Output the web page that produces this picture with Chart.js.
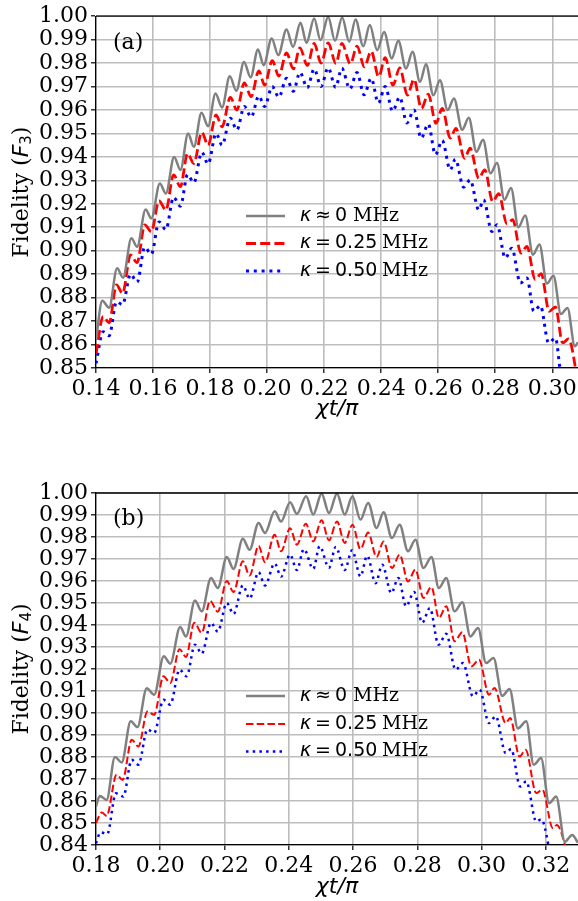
<!DOCTYPE html>
<html><head><meta charset="utf-8">
<script src="https://cdn.jsdelivr.net/npm/chart.js@4.4.1/dist/chart.umd.min.js"></script>
<style>
html,body{margin:0;padding:0;background:#fff;overflow:hidden;width:578px;height:901px;}
#wrapA{position:absolute;left:0;top:0;width:578px;height:440px;}
#wrapB{position:absolute;left:0;top:440px;width:578px;height:461px;}
canvas{display:block;}
</style></head><body>
<div id="wrapA"><canvas id="cA" width="578" height="440"></canvas></div>
<div id="wrapB"><canvas id="cB" width="578" height="461"></canvas></div>
<script>
// ---------- series labels ----------
const seriesLabels = ['κ ≈ 0 MHz', 'κ = 0.25 MHz', 'κ = 0.50 MHz'];

// ---------- panel (a): F3 ----------
const xTicksA = [0.14, 0.16, 0.18, 0.20, 0.22, 0.24, 0.26, 0.28, 0.30];
const yTicksA = [0.85, 0.86, 0.87, 0.88, 0.89, 0.90, 0.91, 0.92, 0.93, 0.94, 0.95, 0.96, 0.97, 0.98, 0.99, 1.00];

const xA_grey = [0.1400, 0.1422, 0.1446, 0.1474, 0.1495, 0.1524, 0.1544, 0.1574, 0.1594, 0.1624, 0.1645, 0.1674, 0.1696, 0.1723, 0.1743, 0.1770, 0.1793, 0.1819, 0.1842, 0.1869, 0.1892, 0.1919, 0.1942, 0.1968, 0.1988, 0.2016, 0.2039, 0.2068, 0.2091, 0.2117, 0.2138, 0.2165, 0.2187, 0.2214, 0.2238, 0.2263, 0.2288, 0.2310, 0.2337, 0.2360, 0.2386, 0.2410, 0.2437, 0.2460, 0.2487, 0.2510, 0.2536, 0.2557, 0.2583, 0.2606, 0.2633, 0.2655, 0.2684, 0.2707, 0.2734, 0.2757, 0.2783, 0.2806, 0.2832, 0.2855, 0.2881, 0.2905, 0.2932, 0.2955, 0.2981, 0.3004, 0.3030, 0.3053, 0.3079, 0.3090];
const yA_grey = [0.862, 0.8787, 0.8757, 0.8925, 0.8885, 0.9053, 0.9017, 0.9176, 0.9138, 0.9287, 0.9244, 0.9400, 0.9344, 0.9500, 0.9443, 0.9588, 0.9531, 0.9670, 0.9611, 0.9744, 0.9682, 0.9805, 0.9739, 0.9858, 0.9791, 0.9905, 0.9834, 0.9943, 0.9869, 0.9972, 0.9886, 0.9990, 0.9898, 0.9997, 0.9895, 0.9994, 0.9891, 0.9986, 0.9872, 0.9962, 0.9855, 0.9933, 0.9820, 0.9895, 0.9777, 0.9848, 0.9720, 0.9795, 0.9663, 0.9727, 0.9600, 0.9649, 0.9516, 0.9567, 0.9422, 0.9473, 0.9330, 0.9374, 0.9217, 0.9268, 0.9100, 0.9150, 0.8983, 0.9027, 0.8860, 0.8893, 0.8730, 0.8756, 0.8593, 0.8610];

const xA_red = [0.1400, 0.1425, 0.1446, 0.1472, 0.1493, 0.1521, 0.1544, 0.1571, 0.1594, 0.1621, 0.1645, 0.1672, 0.1696, 0.1721, 0.1743, 0.1771, 0.1793, 0.1821, 0.1842, 0.1871, 0.1894, 0.1920, 0.1944, 0.1971, 0.1991, 0.2018, 0.2041, 0.2068, 0.2092, 0.2115, 0.2141, 0.2165, 0.2189, 0.2214, 0.2241, 0.2262, 0.2292, 0.2315, 0.2341, 0.2365, 0.2391, 0.2414, 0.2441, 0.2465, 0.2492, 0.2515, 0.2541, 0.2565, 0.2592, 0.2614, 0.2642, 0.2662, 0.2692, 0.2712, 0.2742, 0.2763, 0.2791, 0.2812, 0.2841, 0.2861, 0.2890, 0.2911, 0.2940, 0.2961, 0.2989, 0.3011, 0.3036, 0.3057, 0.3090];
const yA_red = [0.856, 0.8720, 0.8693, 0.8854, 0.8818, 0.8982, 0.8949, 0.9110, 0.9081, 0.9213, 0.9173, 0.9323, 0.9273, 0.9415, 0.9372, 0.9505, 0.9450, 0.9579, 0.9528, 0.9654, 0.9600, 0.9716, 0.9657, 0.9767, 0.9706, 0.9810, 0.9745, 0.9844, 0.9775, 0.9865, 0.9790, 0.9884, 0.9800, 0.9886, 0.9799, 0.9884, 0.9797, 0.9872, 0.9784, 0.9851, 0.9742, 0.9823, 0.9706, 0.9780, 0.9664, 0.9731, 0.9607, 0.9668, 0.9543, 0.9607, 0.9480, 0.9522, 0.9394, 0.9437, 0.9309, 0.9345, 0.9210, 0.9243, 0.9115, 0.9132, 0.8990, 0.9018, 0.8877, 0.8902, 0.8742, 0.8760, 0.8607, 0.8624, 0.8440];

const xA_blue = [0.1400, 0.1425, 0.1446, 0.1472, 0.1493, 0.1521, 0.1544, 0.1571, 0.1594, 0.1621, 0.1645, 0.1672, 0.1696, 0.1721, 0.1743, 0.1771, 0.1793, 0.1821, 0.1842, 0.1871, 0.1894, 0.1920, 0.1944, 0.1971, 0.1991, 0.2018, 0.2041, 0.2068, 0.2092, 0.2115, 0.2141, 0.2165, 0.2189, 0.2214, 0.2240, 0.2262, 0.2290, 0.2315, 0.2340, 0.2365, 0.2390, 0.2414, 0.2440, 0.2465, 0.2490, 0.2515, 0.2540, 0.2565, 0.2590, 0.2614, 0.2642, 0.2660, 0.2689, 0.2712, 0.2742, 0.2759, 0.2788, 0.2806, 0.2835, 0.2858, 0.2888, 0.2911, 0.2935, 0.2958, 0.2987, 0.3011, 0.3028, 0.3045];
const yA_blue = [0.852, 0.8655, 0.8637, 0.8783, 0.8770, 0.8900, 0.8866, 0.9015, 0.8985, 0.9123, 0.9090, 0.9228, 0.9190, 0.9325, 0.9290, 0.9420, 0.9370, 0.9500, 0.9450, 0.9565, 0.9515, 0.9615, 0.9570, 0.9660, 0.9615, 0.9700, 0.9655, 0.9735, 0.9680, 0.9760, 0.9695, 0.9775, 0.9700, 0.9780, 0.9697, 0.9778, 0.9690, 0.9760, 0.9665, 0.9735, 0.9630, 0.9700, 0.9595, 0.9655, 0.9545, 0.9600, 0.9480, 0.9540, 0.9410, 0.9470, 0.9345, 0.9390, 0.9271, 0.9302, 0.9174, 0.9217, 0.9082, 0.9111, 0.8969, 0.9011, 0.8862, 0.8884, 0.8742, 0.8766, 0.8607, 0.8628, 0.8490, 0.8420];

// ---------- panel (b): F4 ----------
const xTicksB = [0.18, 0.20, 0.22, 0.24, 0.26, 0.28, 0.30, 0.32];
const yTicksB = [0.84, 0.85, 0.86, 0.87, 0.88, 0.89, 0.90, 0.91, 0.92, 0.93, 0.94, 0.95, 0.96, 0.97, 0.98, 0.99, 1.00];

const xB_grey = [0.1800, 0.1812, 0.1833, 0.1859, 0.1880, 0.1908, 0.1929, 0.1958, 0.1981, 0.2011, 0.2031, 0.2062, 0.2080, 0.2108, 0.2129, 0.2158, 0.2179, 0.2207, 0.2228, 0.2257, 0.2278, 0.2306, 0.2326, 0.2356, 0.2376, 0.2404, 0.2425, 0.2454, 0.2476, 0.2502, 0.2525, 0.2550, 0.2574, 0.2598, 0.2623, 0.2647, 0.2673, 0.2695, 0.2721, 0.2745, 0.2771, 0.2794, 0.2819, 0.2844, 0.2867, 0.2890, 0.2916, 0.2940, 0.2965, 0.2989, 0.3014, 0.3037, 0.3064, 0.3087, 0.3113, 0.3139, 0.3162, 0.3185, 0.3210, 0.3232, 0.3259, 0.3282, 0.3300];
const yB_grey = [0.8575, 0.8623, 0.8605, 0.8800, 0.8775, 0.8962, 0.8936, 0.9113, 0.9083, 0.9258, 0.9224, 0.9391, 0.9348, 0.9511, 0.9462, 0.9614, 0.9568, 0.9709, 0.9655, 0.9792, 0.9742, 0.9864, 0.9818, 0.9917, 0.9870, 0.9958, 0.9905, 0.9985, 0.9902, 0.9997, 0.9909, 0.9997, 0.9902, 0.9985, 0.9879, 0.9955, 0.9841, 0.9912, 0.9795, 0.9856, 0.9735, 0.9788, 0.9659, 0.9709, 0.9568, 0.9614, 0.9462, 0.9503, 0.9348, 0.9386, 0.9227, 0.9250, 0.9078, 0.9109, 0.8930, 0.8962, 0.8765, 0.8795, 0.8590, 0.8620, 0.8415, 0.8446, 0.8410];

const xB_red = [0.1800, 0.1818, 0.1833, 0.1864, 0.1883, 0.1911, 0.1932, 0.1960, 0.1981, 0.2010, 0.2031, 0.2060, 0.2080, 0.2106, 0.2129, 0.2155, 0.2179, 0.2207, 0.2228, 0.2257, 0.2278, 0.2306, 0.2326, 0.2356, 0.2376, 0.2404, 0.2425, 0.2453, 0.2476, 0.2502, 0.2525, 0.2550, 0.2574, 0.2598, 0.2623, 0.2647, 0.2673, 0.2695, 0.2721, 0.2745, 0.2771, 0.2794, 0.2819, 0.2844, 0.2867, 0.2890, 0.2916, 0.2940, 0.2968, 0.2992, 0.3023, 0.3040, 0.3075, 0.3089, 0.3118, 0.3137, 0.3170, 0.3189, 0.3222, 0.3234, 0.3270];
const yB_red = [0.850, 0.8548, 0.8532, 0.8719, 0.8696, 0.8878, 0.8848, 0.9007, 0.8992, 0.9167, 0.9136, 0.9290, 0.9255, 0.9410, 0.9364, 0.9510, 0.9460, 0.9600, 0.9550, 0.9690, 0.9625, 0.9760, 0.9685, 0.9810, 0.9735, 0.9840, 0.9765, 0.9860, 0.9780, 0.9876, 0.9785, 0.9871, 0.9773, 0.9856, 0.9745, 0.9821, 0.9709, 0.9780, 0.9659, 0.9720, 0.9598, 0.9652, 0.9523, 0.9573, 0.9432, 0.9485, 0.9326, 0.9367, 0.9212, 0.9242, 0.9083, 0.9114, 0.8954, 0.8977, 0.8802, 0.8833, 0.8636, 0.8651, 0.8476, 0.8491, 0.8350];

const xB_blue = [0.1800, 0.1814, 0.1835, 0.1862, 0.1885, 0.1911, 0.1932, 0.1960, 0.1981, 0.2010, 0.2031, 0.2060, 0.2082, 0.2108, 0.2129, 0.2158, 0.2179, 0.2207, 0.2228, 0.2257, 0.2278, 0.2306, 0.2326, 0.2356, 0.2376, 0.2404, 0.2425, 0.2447, 0.2476, 0.2496, 0.2525, 0.2546, 0.2574, 0.2597, 0.2623, 0.2644, 0.2670, 0.2691, 0.2719, 0.2741, 0.2765, 0.2790, 0.2815, 0.2839, 0.2866, 0.2890, 0.2919, 0.2942, 0.2973, 0.2994, 0.3023, 0.3044, 0.3075, 0.3092, 0.3120, 0.3139, 0.3170, 0.3186, 0.3215];
const yB_blue = [0.8408, 0.8458, 0.8450, 0.8635, 0.8620, 0.8787, 0.8765, 0.8925, 0.8910, 0.9060, 0.9038, 0.9197, 0.9167, 0.9310, 0.9270, 0.9410, 0.9370, 0.9500, 0.9450, 0.9580, 0.9520, 0.9640, 0.9580, 0.9680, 0.9620, 0.9720, 0.9650, 0.9745, 0.9655, 0.9758, 0.9660, 0.9755, 0.9650, 0.9740, 0.9621, 0.9715, 0.9590, 0.9674, 0.9545, 0.9614, 0.9485, 0.9550, 0.9410, 0.9477, 0.9310, 0.9360, 0.9197, 0.9227, 0.9076, 0.9106, 0.8954, 0.8985, 0.8818, 0.8836, 0.8666, 0.8689, 0.8507, 0.8517, 0.8350];

// ---------- helpers ----------
const pts = (xs, ys) => xs.map((x, i) => ({x: x, y: ys[i]}));

// legend text pieces: [text, font, x-offset from legend text start]
const legendParts = [
  [['κ', 'italic 19px "DejaVu Sans"', 0], ['≈', '19px "DejaVu Sans"', 15], ['0', '19px "DejaVu Sans"', 35], ['MHz', '19px "DejaVu Serif"', 53]],
  [['κ', 'italic 19px "DejaVu Sans"', 0], ['=', '19px "DejaVu Sans"', 15], ['0.25', '19px "DejaVu Sans"', 35], ['MHz', '19px "DejaVu Serif"', 82]],
  [['κ', 'italic 19px "DejaVu Sans"', 0], ['=', '19px "DejaVu Sans"', 15], ['0.50', '19px "DejaVu Sans"', 35], ['MHz', '19px "DejaVu Serif"', 82]]
];

const deco = {
  id: 'deco',
  afterDraw(chart, args, o) {
    const ctx = chart.ctx, a = chart.chartArea;
    ctx.save();
    // top spine
    ctx.strokeStyle = '#000'; ctx.lineWidth = 1.3; ctx.setLineDash([]);
    ctx.beginPath(); ctx.moveTo(a.left, a.top); ctx.lineTo(a.right + 2, a.top); ctx.stroke();
    // panel label
    ctx.fillStyle = '#000'; ctx.textBaseline = 'middle'; ctx.textAlign = 'left';
    ctx.font = '22px "DejaVu Serif"';
    ctx.fillText(o.label, o.labelX, o.labelY);
    // legend
    chart.data.datasets.forEach((ds, i) => {
      const y = o.legendY[i];
      ctx.strokeStyle = ds.borderColor; ctx.lineWidth = ds.borderWidth;
      ctx.setLineDash(ds.borderDash || []); ctx.lineCap = 'butt';
      ctx.beginPath(); ctx.moveTo(o.legendX0, y); ctx.lineTo(o.legendX1, y); ctx.stroke();
      ctx.setLineDash([]);
      legendParts[i].forEach(p => { ctx.font = p[1]; ctx.fillText(p[0], o.textX + p[2], y); });
    });
    // y-axis title with math-style italic F and subscript
    const parts = [['Fidelity (', '22px "DejaVu Serif"', 0], ['F', 'italic 22px "DejaVu Sans"', 0], [o.sub, '15px "DejaVu Sans"', 5], [')', '22px "DejaVu Serif"', 0]];
    let total = 0;
    parts.forEach(p => { ctx.font = p[1]; total += ctx.measureText(p[0]).width; });
    ctx.translate(o.yTitleX, (a.top + a.bottom) / 2);
    ctx.rotate(-Math.PI / 2);
    let x = -total / 2;
    parts.forEach(p => { ctx.font = p[1]; ctx.fillText(p[0], x, p[2]); x += ctx.measureText(p[0]).width; });
    ctx.restore();
  }
};

function makeChart(id, cfg) {
  const ds = [
    {label: seriesLabels[0], data: pts(cfg.g[0], cfg.g[1]), borderColor: '#808080', borderWidth: 2.5, borderDash: []},
    {label: seriesLabels[1], data: pts(cfg.r[0], cfg.r[1]), borderColor: '#ff0000', borderWidth: cfg.rw, borderDash: cfg.rDash},
    {label: seriesLabels[2], data: pts(cfg.b[0], cfg.b[1]), borderColor: '#0000ff', borderWidth: cfg.bw, borderDash: cfg.bDash}
  ];
  ds.forEach(d => { d.pointRadius = 0; d.fill = false; d.cubicInterpolationMode = 'monotone'; d.borderCapStyle = 'butt'; });
  return new Chart(document.getElementById(id), {
    type: 'line',
    data: {datasets: ds},
    plugins: [deco],
    options: {
      responsive: false, animation: false, devicePixelRatio: 1,
      layout: {padding: {top: cfg.padTop, left: 0, right: 0, bottom: 0}},
      plugins: {legend: {display: false}, tooltip: {enabled: false}, deco: cfg.deco},
      scales: {
        x: {
          type: 'linear', min: cfg.xmin, max: cfg.xmax,
          afterBuildTicks: s => { s.ticks = cfg.xt.map(v => ({value: v})); },
          afterFit: s => { s.height = cfg.xh; s.paddingRight = 0; },
          ticks: {color: '#000', font: {family: 'DejaVu Serif', size: 22}, padding: 3, maxRotation: 0, autoSkip: false,
                  callback: v => Number(v).toFixed(2)},
          grid: {color: '#bdbdbd', lineWidth: 1.6, tickColor: '#000', tickLength: 5, tickWidth: 1.2},
          border: {display: true, color: '#000', width: 1.3},
          title: {display: true, text: 'χt/π', color: '#000', font: {family: 'DejaVu Sans', size: 22, style: 'italic'}, padding: {top: 0, bottom: cfg.xTitlePad}}
        },
        y: {
          type: 'linear', min: cfg.ymin, max: 1.0,
          afterBuildTicks: s => { s.ticks = cfg.yt.map(v => ({value: v})); },
          afterFit: s => { s.width = 96; },
          ticks: {color: '#000', font: {family: 'DejaVu Serif', size: 22}, padding: 3, autoSkip: false,
                  callback: v => Number(v).toFixed(2)},
          grid: {color: '#bdbdbd', lineWidth: 1.6, tickColor: '#000', tickLength: 5, tickWidth: 1.2},
          border: {display: true, color: '#000', width: 1.3},
          title: {display: false, text: cfg.ytitle}
        }
      }
    }
  });
}

makeChart('cA', {
  g: [xA_grey, yA_grey], r: [xA_red, yA_red], b: [xA_blue, yA_blue],
  rw: 2.8, rDash: [10, 4.2], bw: 3, bDash: [3, 4.8],
  xmin: 0.14, xmax: 0.309, ymin: 0.85, xt: xTicksA, yt: yTicksA,
  padTop: 16, xh: 72, xTitlePad: 18, ytitle: 'Fidelity (F₃)',
  deco: {label: '(a)', labelX: 113, labelY: 43, legendX0: 246, legendX1: 285, textX: 300, legendY: [216, 243.5, 271], sub: '3', yTitleX: 22}
});
makeChart('cB', {
  g: [xB_grey, yB_grey], r: [xB_red, yB_red], b: [xB_blue, yB_blue],
  rw: 2, rDash: [7.5, 3.2], bw: 2.5, bDash: [2.5, 4.2],
  xmin: 0.18, xmax: 0.33, ymin: 0.84, xt: xTicksB, yt: yTicksB,
  padTop: 53, xh: 56, xTitlePad: 1, ytitle: 'Fidelity (F₄)',
  deco: {label: '(b)', labelX: 113, labelY: 79, legendX0: 246, legendX1: 285, textX: 300, legendY: [256, 284, 311.5], sub: '4', yTitleX: 22}
});
</script>
</body></html>
